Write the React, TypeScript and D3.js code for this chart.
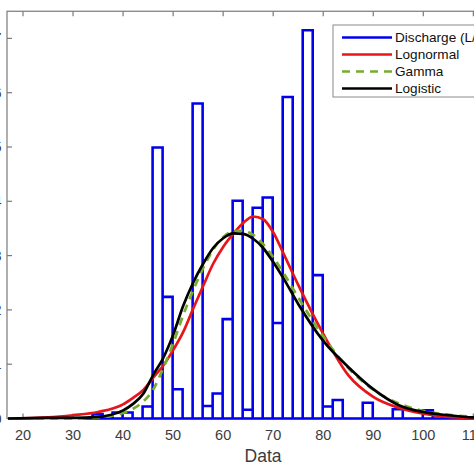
import React, { useEffect } from "react";
import * as d3 from "d3";

// Histogram bins (left edge, bin width 2) and density heights
const binLeft = [31.9, 33.9, 35.9, 37.9, 39.9, 41.9, 43.9, 45.9, 47.9, 49.9, 51.9, 53.9, 55.9, 57.9, 59.9, 61.9, 63.9, 65.9, 67.9, 69.9, 71.9, 73.9, 75.9, 77.9, 79.9, 81.9, 83.9, 85.9, 87.9, 89.9, 91.9, 93.9, 95.9, 97.9, 99.9, 101.9, 103.9, 105.9, 107.9, 109.9, 111.9];
const binDensity = [0, 0.0008, 0, 0.0011, 0.0011, 0, 0.0022, 0.0499, 0.0224, 0.0054, 0, 0.058, 0.0023, 0.0046, 0.0183, 0.0401, 0.0016, 0.0388, 0.0407, 0.0176, 0.0592, 0, 0.0715, 0.0264, 0.0022, 0.0034, 0, 0, 0.0029, 0, 0, 0.0017, 0, 0, 0.0015, 0.0006, 0, 0, 0, 0, 0];
const binWidth = 2;

// Fitted curves
const curveX = [17, 25, 30, 35, 40, 42, 44, 46, 48, 50, 52, 54, 56, 58, 60, 62, 64, 66, 68, 70, 72, 75, 80, 85, 90, 95, 100, 105, 110, 115];
const lognormalY = [0, 0.0002, 0.0006, 0.0012, 0.0026, 0.0038, 0.0052, 0.0075, 0.0097, 0.0126, 0.0159, 0.0202, 0.0244, 0.0285, 0.0316, 0.034, 0.036, 0.0372, 0.0367, 0.0343, 0.0305, 0.0246, 0.0156, 0.008, 0.004, 0.002, 0.0009, 0.0003, 0.0001, 0];
const gammaY = [0, 0, 0, 0.0002, 0.001, 0.0018, 0.0031, 0.0053, 0.0092, 0.0138, 0.019, 0.0236, 0.0277, 0.0311, 0.0334, 0.0345, 0.0346, 0.0338, 0.0321, 0.0297, 0.0269, 0.0223, 0.0151, 0.0093, 0.0053, 0.0028, 0.0014, 0.0007, 0.0003, 0.0001];
const logisticY = [0, 0.0001, 0.0001, 0.0003, 0.0015, 0.0027, 0.0045, 0.008, 0.0111, 0.0154, 0.0207, 0.025, 0.0285, 0.0314, 0.0332, 0.0341, 0.034, 0.0331, 0.0314, 0.0288, 0.0259, 0.0211, 0.0143, 0.0095, 0.0054, 0.0025, 0.0012, 0.0006, 0.0002, 0.0001];

const xTicks = [20, 30, 40, 50, 60, 70, 80, 90, 100, 110];
const yTicks = [0, 0.01, 0.02, 0.03, 0.04, 0.05, 0.06, 0.07];
const legendLabels = ["Discharge (L/s)", "Lognormal", "Gamma", "Logistic"];

const FONT = "'Liberation Sans', Arial, Helvetica, sans-serif";

export default function App() {
  useEffect(() => {
    document.body.style.margin = "0";
  }, []);

  const x = d3.scaleLinear().domain([20, 100]).range([23, 423.3]);
  const y = d3.scaleLinear().domain([0, 0.07]).range([418.5, 418.5 - 7 * 54.3]);

  const left = x(16.8);
  const right = x(121);
  const top = y(0.075);
  const bottom = y(0);

  const line = (ys: number[]) =>
    d3
      .line<number>()
      .x((_, i) => x(curveX[i]))
      .y((d) => y(d))
      .curve(d3.curveMonotoneX)(ys) || "";

  const barPath = binLeft
    .map((b, i) => {
      const x0 = x(b);
      const x1 = x(b + binWidth);
      const yt = y(binDensity[i]);
      return `M${x0},${bottom}V${yt}H${x1}V${bottom}Z`;
    })
    .join("");

  const axisColor = "#7a7a7a";
  const textColor = "#3c3c3c";

  const legendRows = [37.5, 54.5, 71.5, 88.5];
  const legendStyles = [
    { stroke: "#0000ee", dash: undefined },
    { stroke: "#e8151b", dash: undefined },
    { stroke: "#77ac30", dash: "8,6" },
    { stroke: "#000000", dash: undefined },
  ];

  return (
    <svg
      width={474}
      height={474}
      style={{ position: "absolute", left: 0, top: 0, background: "#fff" }}
      fontFamily={FONT}
    >
      <defs>
        <clipPath id="plot">
          <rect x={left} y={top} width={right - left} height={bottom - top + 2} />
        </clipPath>
      </defs>
      <rect x={0} y={0} width={474} height={474} fill="#fff" />

      {/* axes frame */}
      <rect x={left} y={top} width={right - left} height={bottom - top} fill="none" stroke={axisColor} strokeWidth={1.2} />

      {/* ticks */}
      {xTicks.map((t) => (
        <g key={"xt" + t}>
          <line x1={x(t)} x2={x(t)} y1={bottom} y2={bottom - 5} stroke={axisColor} strokeWidth={1.2} />
          <line x1={x(t)} x2={x(t)} y1={top} y2={top + 5} stroke={axisColor} strokeWidth={1.2} />
          <text x={x(t)} y={439.5} textAnchor="middle" fontSize={14.5} fill={textColor}>
            {t}
          </text>
        </g>
      ))}
      {yTicks.map((t) => (
        <g key={"yt" + t}>
          <line x1={left} x2={left + 5} y1={y(t)} y2={y(t)} stroke={axisColor} strokeWidth={1.2} />
          <text x={1.5} y={y(t) + 5} textAnchor="end" fontSize={14.5} fill={textColor}>
            {t}
          </text>
        </g>
      ))}

      <text x={263} y={462} textAnchor="middle" fontSize={17.5} fill={textColor}>
        Data
      </text>

      <g clipPath="url(#plot)">
        <path d={barPath} fill="none" stroke="#0000ee" strokeWidth={2.6} strokeLinejoin="miter" />
        <path d={line(lognormalY)} fill="none" stroke="#e8151b" strokeWidth={2.7} />
        <path d={line(gammaY)} fill="none" stroke="#77ac30" strokeWidth={2.7} strokeDasharray="8,6" />
        <path d={line(logisticY)} fill="none" stroke="#000" strokeWidth={2.7} />
      </g>

      {/* legend */}
      <rect x={333} y={25} width={200} height={72} fill="#fff" stroke="#8a8a8a" strokeWidth={1} />
      {legendLabels.map((lab, i) => (
        <g key={lab}>
          <line
            x1={342}
            x2={392}
            y1={legendRows[i]}
            y2={legendRows[i]}
            stroke={legendStyles[i].stroke}
            strokeWidth={2.6}
            strokeDasharray={legendStyles[i].dash}
          />
          <text x={395} y={legendRows[i] + 4.8} fontSize={13.6} fill="#111">
            {lab}
          </text>
        </g>
      ))}
    </svg>
  );
}
